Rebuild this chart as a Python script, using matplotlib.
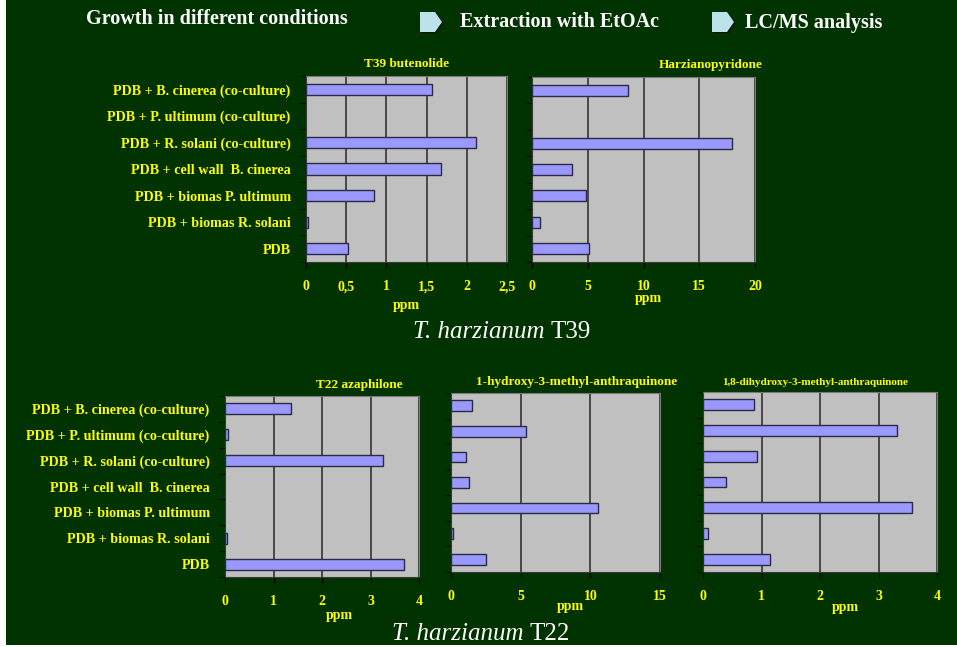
import matplotlib
matplotlib.use("Agg")
import numpy as np
import matplotlib.pyplot as plt
from matplotlib.patches import Polygon, Rectangle

# --- data ---
conditions = [
    "PDB + B. cinerea (co-culture)",
    "PDB + P. ultimum (co-culture)",
    "PDB + R. solani (co-culture)",
    "PDB + cell wall  B. cinerea",
    "PDB + biomas P. ultimum",
    "PDB + biomas R. solani",
    "PDB",
]
t39_butenolide = [1.57, 0.0, 2.11, 1.68, 0.84, 0.02, 0.52]
harzianopyridone = [8.6, 0.0, 17.9, 3.6, 4.8, 0.75, 5.15]
t22_azaphilone = [1.37, 0.055, 3.25, 0.0, 0.0, 0.05, 3.70]
hydroxy_mAQ = [1.5, 5.4, 1.07, 1.3, 10.55, 0.14, 2.53]
dihydroxy_mAQ = [0.87, 3.32, 0.93, 0.39, 3.57, 0.085, 1.14]

BG = "#003300"
YEL = "#FFFF00"
FACE = "#C0C0C0"
BAR = "#9999FF"
SERIF = ["Liberation Serif", "DejaVu Serif"]

W, H = 957, 647
fig = plt.figure(figsize=(W / 100, H / 100), dpi=100)
fig.patch.set_facecolor("white")
# green slide background (white strip at left and bottom)
fig.add_artist(Rectangle((6 / W, 2 / H), 1, 1, transform=fig.transFigure,
                         facecolor=BG, edgecolor="none", zorder=-10))


def px_axes(x0, y0, x1, y1):
    return fig.add_axes([x0 / W, 1 - y1 / H, (x1 - x0) / W, (y1 - y0) / H])


def panel(ax, values, title, xmax, step, labels=False, title_size=9.5,
          tick_fmt=None, ppm_y=-0.24, ppm_x=0.5, title_x=0.5):
    ypos = np.arange(len(values))[::-1]
    ax.set_facecolor(FACE)
    edges = ["#2a2a44" if v > 0 else "none" for v in values]
    ax.barh(ypos, values, height=0.42, color=BAR, edgecolor=edges,
            linewidth=1.0, zorder=3)
    ax.set_xlim(0, xmax)
    ax.set_ylim(-0.5, len(values) - 0.5)
    ticks = np.arange(0, xmax + step / 2, step)
    ax.set_xticks(ticks)
    if tick_fmt:
        ax.set_xticklabels([tick_fmt(t) for t in ticks])
    ax.grid(axis="x", color="#333333", linewidth=1.2, zorder=1)
    ax.set_axisbelow(True)
    for s in ["top", "right"]:
        ax.spines[s].set_color("#7a7a7a")
    ax.spines["left"].set_color("#3a3a3a")
    ax.spines["bottom"].set_color("#3a3a3a")
    ax.tick_params(axis="x", colors="black", length=4, pad=9,
                   labelcolor=YEL, labelsize=10)
    ax.set_yticks(ypos)
    ax.set_yticks(np.arange(len(values) + 1) - 0.5, minor=True)
    ax.tick_params(axis="y", which="major", length=0, pad=11,
                   labelcolor=YEL, labelsize=10.2)
    ax.tick_params(axis="y", which="minor", length=4, color="black")
    if labels:
        ax.set_yticklabels(conditions)
    else:
        ax.set_yticklabels([])
    for lab in ax.get_xticklabels() + ax.get_yticklabels():
        lab.set_fontfamily(SERIF)
        lab.set_fontweight("bold")
    ax.text(title_x, 1.03, title, transform=ax.transAxes, ha="center",
            va="bottom", color=YEL, fontsize=title_size, fontweight="bold",
            family=SERIF)
    ax.text(ppm_x, ppm_y, "ppm", transform=ax.transAxes, ha="center",
            va="center", color=YEL, fontsize=10, fontweight="bold",
            family=SERIF)


comma = lambda t: ("%g" % t).replace(".", ",")

ax1 = px_axes(306, 76, 507, 262)
panel(ax1, t39_butenolide, "T39 butenolide", 2.5, 0.5, labels=True,
      tick_fmt=comma, ppm_y=-0.235)
ax2 = px_axes(532, 77, 755, 262)
panel(ax2, harzianopyridone, "Harzianopyridone", 20, 5, ppm_y=-0.195,
      ppm_x=0.52, title_x=0.8)
ax3 = px_axes(225, 396, 419, 577)
panel(ax3, t22_azaphilone, "T22 azaphilone", 4, 1, labels=True,
      ppm_y=-0.21, ppm_x=0.59, title_x=0.69)
ax4 = px_axes(451, 393, 660, 572)
panel(ax4, hydroxy_mAQ, "1-hydroxy-3-methyl-anthraquinone", 15, 5,
      ppm_y=-0.195, ppm_x=0.57, title_x=0.6)
ax5 = px_axes(703, 392, 937, 572)
panel(ax5, dihydroxy_mAQ, "1,8-dihydroxy-3-methyl-anthraquinone", 4, 1,
      title_size=8, ppm_y=-0.195, ppm_x=0.61, title_x=0.48)

# --- header ---
def ftext(x, y, s, **kw):
    fig.text(x / W, 1 - y / H, s, family=SERIF, color="white",
             va="center", **kw)

ftext(86, 19, "Growth in different conditions", fontsize=14.5, fontweight="bold")
ftext(460, 22, "Extraction with EtOAc", fontsize=14.5, fontweight="bold")
ftext(745, 23, "LC/MS analysis", fontsize=14.5, fontweight="bold")


def arrow(x0, y0):
    pts = [(x0, y0), (x0 + 15, y0), (x0 + 22, y0 + 10), (x0 + 15, y0 + 20),
           (x0, y0 + 20)]
    shadow = [(x + 1.5, y + 1) for x, y in pts]
    for p, c in [(shadow, "#111111"), (pts, "#BDE3EA")]:
        fig.add_artist(Polygon([(x / W, 1 - y / H) for x, y in p], closed=True,
                               transform=fig.transFigure, facecolor=c,
                               edgecolor="none"))

arrow(420, 12)
arrow(712, 12)

# strain captions: italic species + upright strain code
for x, y, strain in [(413, 332, "T39"), (392, 634, "T22")]:
    t = fig.text(x / W, 1 - y / H, "T. harzianum ", family=SERIF,
                 style="italic", color="white", fontsize=18, va="center")
    fig.canvas.draw()
    bb = t.get_window_extent()
    fig.text(bb.x1 / W, 1 - y / H, strain, family=SERIF, color="white",
             fontsize=18, va="center")

fig.savefig("out.png", dpi=100, facecolor=fig.get_facecolor())
